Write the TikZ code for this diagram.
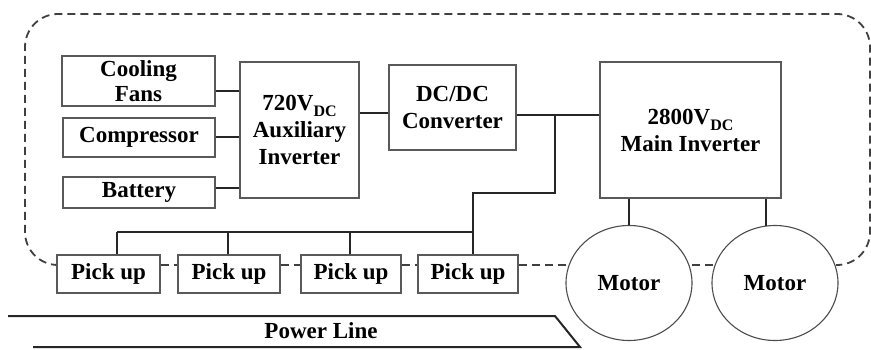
\documentclass[tikz,border=0pt]{standalone}
\usepackage{fontspec}
\setmainfont{Liberation Serif}
\usetikzlibrary{shapes.geometric}
\newcommand{\subDC}{\raisebox{-6pt}{\fontsize{16}{16}\selectfont DC}}
\begin{document}
\begin{tikzpicture}[x=1pt,y=-1pt,
  box/.style={draw=black!65, line width=1.2pt, fill=white, inner sep=0pt, align=center,
    font=\bfseries\fontsize{23}{27}\selectfont},
  motor/.style={ellipse, draw=black!70, line width=1.1pt, fill=white, inner sep=0pt,
    minimum width=126pt, minimum height=115pt, font=\bfseries\fontsize{23}{27}\selectfont},
  wire/.style={line width=2pt, draw=black!85},
  bound/.style={draw=black!75, line width=1.8pt, dash pattern=on 8pt off 5pt},
  rail/.style={line width=2pt, draw=black!85, line join=miter}]
\useasboundingbox (0,0) rectangle (871,350);

% dashed boundary (drawn first, boxes cover it)
\draw[bound, rounded corners=33pt] (57,265) -- (25,265) -- (25,14) -- (870,14) -- (870,265) -- (836,265);

% boxes
\node[box, minimum width=153pt, minimum height=50pt] (fans) at (138.5,81) {Cooling\\[-2pt]Fans};
\node[box, minimum width=152pt, minimum height=39pt] (comp) at (139,137.5) {Compressor};
\node[box, minimum width=152pt, minimum height=31pt] (batt) at (139,192.5) {Battery};
\node[box, minimum width=119pt, minimum height=136pt] (aux) at (299.5,130) {720V\subDC\\Auxiliary\\Inverter};
\node[box, minimum width=127pt, minimum height=85pt] (dcdc) at (452.5,107.5) {DC/DC\\Converter};
\node[box, minimum width=181pt, minimum height=136pt] (main) at (690.5,130) {2800V\subDC\\Main Inverter};

\node[box, minimum width=103pt, minimum height=38pt] (p1) at (108.5,274) {Pick up};
\node[box, minimum width=102pt, minimum height=38pt] (p2) at (229,274) {Pick up};
\node[box, minimum width=100pt, minimum height=38pt] (p3) at (351,274) {Pick up};
\node[box, minimum width=100pt, minimum height=38pt] (p4) at (468,274) {Pick up};

\node[motor] (m1) at (629,283) {Motor};
\node[motor] (m2) at (775,283) {Motor};

% dashed links along the track
\draw[bound] (p1.east |- 0,265) -- (p2.west |- 0,265);
\draw[bound] (p2.east |- 0,265) -- (p3.west |- 0,265);
\draw[bound] (p3.east |- 0,265) -- (p4.west |- 0,265);
\draw[bound] (p4.east |- 0,265) -- (566,265);
\draw[bound] (692,265) -- (713,265);

% wires to auxiliary inverter
\draw[wire] (fans.east |- 0,91) -- (aux.west |- 0,91);
\draw[wire] (comp.east |- 0,137) -- (aux.west |- 0,137);
\draw[wire] (batt.east |- 0,188) -- (aux.west |- 0,188);
\draw[wire] (aux.east |- 0,113) -- (dcdc.west |- 0,113);

% DC bus
\coordinate (J) at (555,115);
\draw[wire] (dcdc.east |- J) -- (main.west |- J);
\draw[wire] (J) -- (555,193) -- (473,193) -- (p4.north -| 473,0);
\draw[wire] (117,232) -- (473,232);
\draw[wire] (117,232) -- (p1.north -| 117,0);
\draw[wire] (228,232) -- (p2.north -| 228,0);
\draw[wire] (350,232) -- (p3.north -| 350,0);

% inverter to motors
\draw[wire] (main.south -| 629,0) -- (m1.north);
\draw[wire] (main.south -| 766,0) -- (766,226);

% power line
\draw[rail] (8,316) -- (555,316) -- (580,347) -- (33,347);
\node[font=\bfseries\fontsize{23}{27}\selectfont, inner sep=0pt] (pl) at (321,331) {Power Line};
\end{tikzpicture}
\end{document}
